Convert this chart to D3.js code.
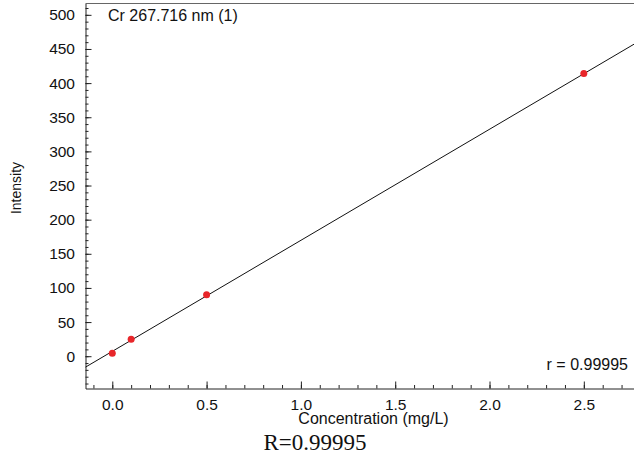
<!DOCTYPE html>
<html>
<head>
<meta charset="utf-8">
<script src="https://cdn.jsdelivr.net/npm/d3@7"></script>
<style>
  body { margin: 0; background: #fff; }
</style>
</head>
<body>
<script>
  // calibration standards
  const concentrations = [0.0, 0.1, 0.5, 2.5];
  const intensities = [4.5, 25, 90, 414];

  // fitted line, read at the two plot edges
  const fitX = [-0.142, 2.766];
  const fitY = [-16, 457];

  const xMajor = [0.0, 0.5, 1.0, 1.5, 2.0, 2.5];
  const xMinor = d3.range(-1, 28).map(d => d / 10);
  const yMajor = [0, 50, 100, 150, 200, 250, 300, 350, 400, 450, 500];
  const yMinor = d3.range(-40, 520, 10);

  const title = 'Cr 267.716 nm (1)';
  const rText = 'r = 0.99995';
  const caption = 'R=0.99995';

  const width = 634, height = 458;
  const plot = { left: 85.5, right: 634, top: 3.5, bottom: 388.5 };
  const sans = '"Liberation Sans", Arial, sans-serif';

  const x = d3.scaleLinear()
    .domain([-0.142, 2.766])
    .range([plot.left, plot.right]);

  const y = d3.scaleLinear()
    .domain([-47.3, 516.6])
    .range([plot.bottom, plot.top]);

  const svg = d3.select('body').append('svg')
    .attr('width', width)
    .attr('height', height)
    .style('font-family', sans);

  // top border
  svg.append('line')
    .attr('x1', plot.left).attr('x2', plot.right)
    .attr('y1', plot.top).attr('y2', plot.top)
    .attr('stroke', '#666')
    .attr('stroke-width', 1.2);

  // minor ticks
  svg.append('g')
    .attr('transform', `translate(${plot.left},0)`)
    .call(d3.axisLeft(y).tickValues(yMinor).tickSize(-3).tickSizeOuter(0).tickFormat(''))
    .call(g => g.select('.domain').remove());

  svg.append('g')
    .attr('transform', `translate(0,${plot.bottom})`)
    .call(d3.axisBottom(x).tickValues(xMinor).tickSize(-3.5).tickSizeOuter(0).tickFormat(''))
    .call(g => g.select('.domain').remove());

  // y axis
  svg.append('g')
    .attr('transform', `translate(${plot.left},0)`)
    .call(d3.axisLeft(y)
      .tickValues(yMajor)
      .tickSize(-6)
      .tickSizeOuter(0)
      .tickPadding(10.5)
      .tickFormat(d3.format('d')));

  // x axis
  svg.append('g')
    .attr('transform', `translate(0,${plot.bottom})`)
    .call(d3.axisBottom(x)
      .tickValues(xMajor)
      .tickSize(-7)
      .tickSizeOuter(0)
      .tickPadding(10)
      .tickFormat(d3.format('.1f')));

  svg.selectAll('.tick line').attr('stroke', '#222');
  svg.selectAll('.domain').attr('stroke', '#222');
  svg.selectAll('.tick text')
    .attr('fill', '#111')
    .attr('font-size', '15.5px')
    .attr('font-family', sans);

  // fit line
  svg.append('line')
    .attr('x1', x(fitX[0])).attr('y1', y(fitY[0]))
    .attr('x2', x(fitX[1])).attr('y2', y(fitY[1]))
    .attr('stroke', '#111')
    .attr('stroke-width', 1);

  // points
  svg.selectAll('circle.pt')
    .data(concentrations)
    .enter().append('circle')
      .attr('class', 'pt')
      .attr('cx', d => x(d))
      .attr('cy', (d, i) => y(intensities[i]))
      .attr('r', 3.5)
      .attr('fill', '#e8262a');

  // labels
  svg.append('text')
    .attr('x', 108)
    .attr('y', 21)
    .attr('font-size', '16px')
    .attr('fill', '#111')
    .text(title);

  svg.append('text')
    .attr('x', 628)
    .attr('y', 370)
    .attr('text-anchor', 'end')
    .attr('font-size', '16px')
    .attr('fill', '#111')
    .text(rText);

  svg.append('text')
    .attr('transform', 'translate(21,188) rotate(-90)')
    .attr('text-anchor', 'middle')
    .attr('font-size', '14px')
    .attr('fill', '#111')
    .text('Intensity');

  svg.append('text')
    .attr('x', 373.5)
    .attr('y', 424)
    .attr('text-anchor', 'middle')
    .attr('font-size', '16px')
    .attr('fill', '#111')
    .text('Concentration (mg/L)');

  svg.append('text')
    .attr('x', 315)
    .attr('y', 450)
    .attr('text-anchor', 'middle')
    .attr('font-size', '23px')
    .style('font-family', '"Liberation Serif", "Times New Roman", serif')
    .attr('fill', '#111')
    .text(caption);
</script>
</body>
</html>
